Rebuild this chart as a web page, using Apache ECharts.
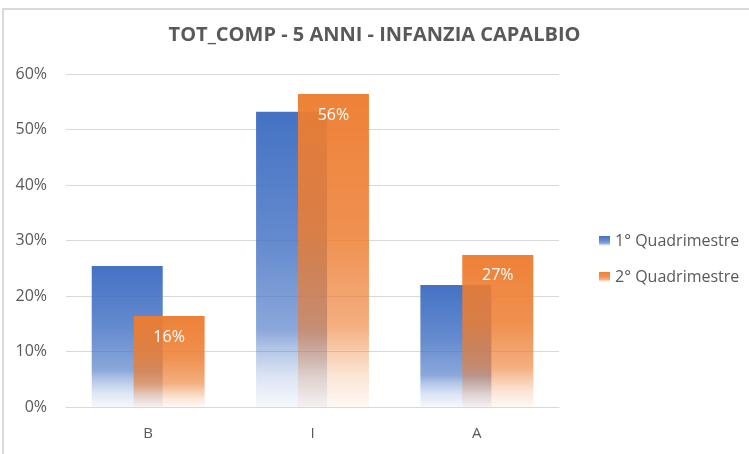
<!DOCTYPE html>
<html>
<head>
<meta charset="utf-8">
<script src="https://cdn.jsdelivr.net/npm/echarts@6/dist/echarts.min.js"></script>
<style>
  html, body { margin: 0; padding: 0; background: #fff; }
  #frame { position: absolute; left: 2px; top: 8px; width: 760px; height: 460px;
           border-top: 2px solid #d9d9d9; border-left: 2px solid #d9d9d9; }
  #chart { position: absolute; left: 0; top: 0; width: 749px; height: 454px; }
</style>
</head>
<body>
<div id="frame"></div>
<div id="chart"></div>
<script>
const categories = ['B', 'I', 'A'];
const seriesNames = ['1° Quadrimestre', '2° Quadrimestre'];
const quad1 = [25.4, 53.2, 22.0];
const quad2 = [16.4, 56.4, 27.4];
const yTicks = [0, 10, 20, 30, 40, 50, 60];

const txt = '#595959';
const font = '"Open Sans", Lato, sans-serif';

function fade(r, g, b, stops) {
  return new echarts.graphic.LinearGradient(0, 0, 0, 1,
    stops.map(s => ({ offset: s[0], color: 'rgba(' + r + ',' + g + ',' + b + ',' + s[1] + ')' })));
}

const blue = fade(68, 114, 196, [[0, 1], [0.45, 0.82], [0.74, 0.62], [0.8, 0.42], [0.9, 0.18], [1, 0.05]]);
const orange = fade(237, 125, 49, [[0, 0.97], [0.45, 0.85], [0.74, 0.62], [0.82, 0.4], [0.9, 0.2], [1, 0.05]]);

const chart = echarts.init(document.getElementById('chart'), null, { renderer: 'canvas' });
chart.setOption({
  backgroundColor: 'transparent',
  animation: false,
  title: {
    text: 'TOT_COMP - 5 ANNI - INFANZIA CAPALBIO',
    left: 'center',
    top: 25,
    padding: [0, 0, 0, 8],
    textStyle: { color: txt, fontSize: 20, fontWeight: 'bold', fontFamily: font }
  },
  legend: {
    orient: 'vertical',
    left: 594,
    top: 226,
    itemWidth: 11,
    itemHeight: 10,
    itemGap: 16,
    icon: 'rect',
    textStyle: { color: txt, fontSize: 16, fontFamily: font, lineHeight: 20 },
    data: seriesNames
  },
  grid: { left: 66, right: 190, top: 74, bottom: 47 },
  xAxis: {
    type: 'category',
    data: categories,
    axisTick: { show: false },
    axisLine: { lineStyle: { color: '#d9d9d9', width: 1 } },
    axisLabel: { color: txt, fontSize: 15, fontFamily: font, margin: 19 }
  },
  yAxis: {
    type: 'value',
    min: 0,
    max: 60,
    interval: 10,
    axisLine: { show: false },
    axisTick: { show: false },
    splitLine: { lineStyle: { color: '#d9d9d9', width: 1 } },
    axisLabel: {
      color: txt, fontSize: 16, fontFamily: font, margin: 19,
      formatter: v => yTicks.includes(v) ? v + '%' : ''
    }
  },
  series: [
    {
      name: seriesNames[0],
      type: 'bar',
      data: quad1,
      barWidth: 71,
      barGap: '-41%',
      itemStyle: { color: blue }
    },
    {
      name: seriesNames[1],
      type: 'bar',
      data: quad2,
      barWidth: 71,
      itemStyle: { color: orange },
      label: {
        show: true,
        position: 'insideTop',
        distance: 13,
        color: '#ffffff',
        fontSize: 16,
        fontFamily: font,
        formatter: p => Math.round(p.value) + '%'
      }
    }
  ]
});
</script>
</body>
</html>
